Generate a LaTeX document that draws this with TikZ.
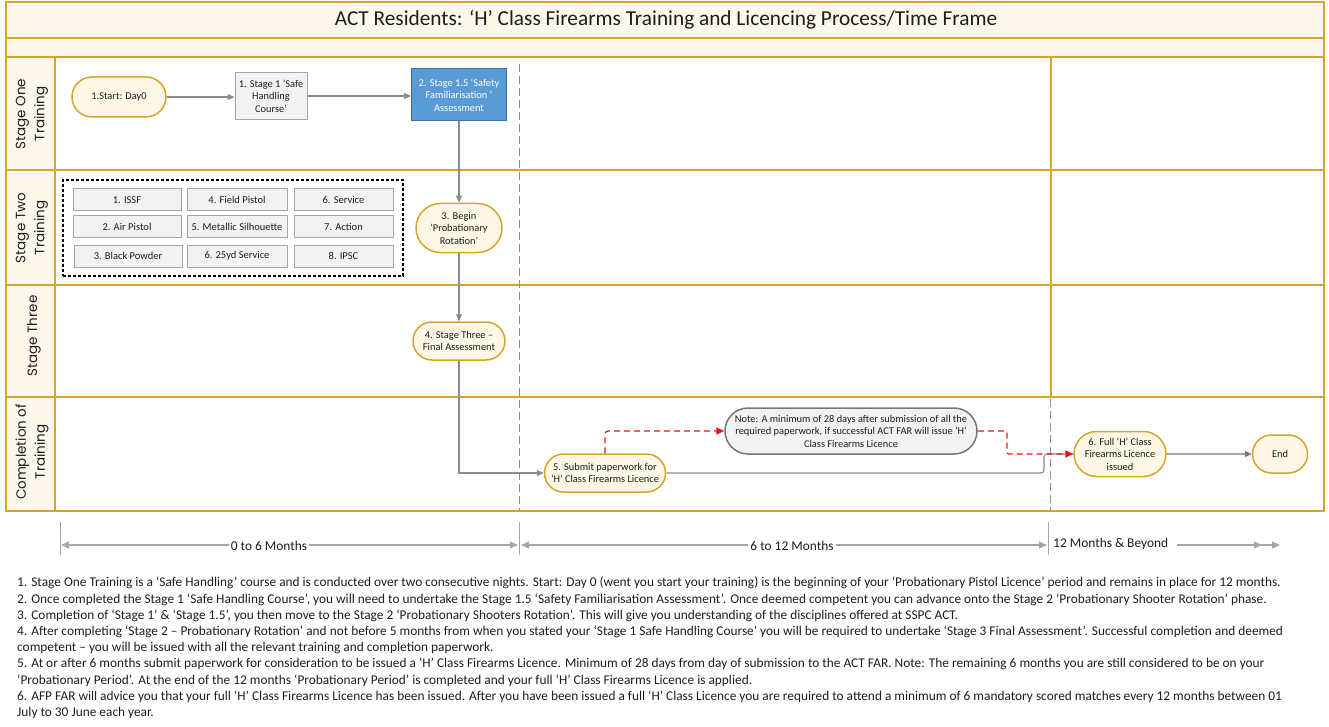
\documentclass[tikz,border=0pt]{standalone}
\usepackage{fontspec}
\setmainfont{Carlito}
\newfontfamily\lanefont{Poppins}
\usetikzlibrary{arrows.meta,shapes.misc}
\definecolor{gold}{RGB}{214,166,44}
\definecolor{cream}{RGB}{254,247,236}
\definecolor{nodecream}{RGB}{255,247,230}
\definecolor{boxgray}{RGB}{242,242,242}
\definecolor{boxline}{RGB}{166,166,166}
\definecolor{blu}{RGB}{91,155,213}
\definecolor{bluline}{RGB}{65,113,156}
\definecolor{arrgray}{RGB}{140,140,140}
\definecolor{darkgray2}{RGB}{118,118,118}
\definecolor{tlgray}{RGB}{166,166,166}
\definecolor{redl}{RGB}{232,20,20}
\definecolor{txt}{RGB}{30,30,30}
\tikzset{
  lane/.style={draw=gold, line width=1.6pt},
  term/.style={rounded rectangle, draw=gold, line width=1.5pt, fill=nodecream, align=center,
    text=txt, font=\fontsize{10.4}{12.5}\selectfont, inner sep=1pt},
  procbox/.style={rectangle, draw=boxline, line width=1pt, fill=boxgray, align=center,
    text=txt, font=\fontsize{10.4}{12.5}\selectfont, inner sep=1pt},
  disc/.style={rectangle, draw=boxline, line width=1pt, fill=boxgray, text=txt,
    minimum height=22, inner sep=1pt, font=\fontsize{10.5}{12}\selectfont},
  flow/.style={draw=arrgray, line width=1.1pt, -{Triangle[length=7pt,width=6pt]}},
  redflow/.style={draw=redl, line width=1.2pt, dash pattern=on 6pt off 4pt,
    -{Triangle[length=8pt,width=7pt]}},
  vdash/.style={draw=arrgray, line width=1pt, dash pattern=on 8pt off 4pt},
  tick/.style={draw=tlgray, line width=1pt},
  tl/.style={draw=tlgray, line width=1.4pt},
  tltext/.style={fill=white, inner sep=2pt, text=txt, font=\fontsize{13.4}{15}\selectfont},
  lanelabel/.style={rotate=90, align=center, text=txt, font=\lanefont\fontsize{13.5}{19}\selectfont},
  notes/.style={anchor=west, inner sep=0pt, text=txt, font=\fontsize{13.35}{15}\selectfont}
}
\begin{document}
\begin{tikzpicture}[x=1pt,y=-1pt]
\useasboundingbox (0,0) rectangle (1329,727);
% frame
\fill[cream] (6,2) rectangle (1324,57);
\fill[cream] (6,57) rectangle (55,511);
\draw[lane] (6,38) -- (1324,38);
\draw[lane] (6,57) -- (1324,57);
\draw[lane] (6,170) -- (1324,170);
\draw[lane] (6,285) -- (1324,285);
\draw[lane] (6,397) -- (1324,397);
\draw[lane] (55,57) -- (55,511);
\draw[lane] (1051,57) -- (1051,397);
\draw[draw=gold, line width=2pt] (6,2) rectangle (1324,511);
% dashed time dividers
\draw[vdash] (519,64) -- (519,511);
\draw[vdash] (1050,399) -- (1050,511);
% title
\node[text=txt, font=\fontsize{21.3}{24}\selectfont] (title) at (666,20) {ACT Residents: ‘H’ Class Firearms Training and Licencing Process/Time Frame};
% lane labels
\node[lanelabel] (l1) at (32,114) {Stage One\\Training};
\node[lanelabel] (l2) at (32,228) {Stage Two\\Training};
\node[lanelabel] (l3) at (34,336) {Stage Three};
\node[lanelabel] (l4) at (32,452) {Completion of\\Training};
% stage one
\node[term, minimum width=96, minimum height=40] (n1) at (119,97) {1.Start: Day0};
\node[procbox, minimum width=72, minimum height=47] (n2) at (271,96) {1. Stage 1 ‘Safe\\Handling\\Course’};
\node[procbox, fill=blu, draw=bluline, text=white, minimum width=95, minimum height=52] (n3) at (459,95) {2. Stage 1.5 ‘Safety\\Familiarisation ’\\Assessment};
% stage two group
\node[draw=black, line width=1.3pt, dash pattern=on 3pt off 2pt, minimum width=340, minimum height=96] (grp) at (233,228) {};
\node[disc, minimum width=108] (d1) at (127,200) {1. ISSF};
\node[disc, minimum width=100] (d4) at (237,200) {4. Field Pistol};
\node[disc, minimum width=99] (d6) at (343.5,200) {6. Service};
\node[disc, minimum width=108] (d2) at (127,227) {2. Air Pistol};
\node[disc, minimum width=100] (d5) at (237,227) {5. Metallic Silhouette};
\node[disc, minimum width=99] (d7) at (343.5,227) {7. Action};
\node[disc, minimum width=108] (d3) at (128,256) {3. Black Powder};
\node[disc, minimum width=100] (d25) at (237,256) {6. 25yd Service};
\node[disc, minimum width=99] (d8) at (343.5,256) {8. IPSC};
\node[term, minimum width=88, minimum height=49] (n4) at (459,228) {3. Begin\\‘Probationary\\Rotation’};
% stage three
\node[term, minimum width=94, minimum height=38] (n5) at (459,341) {4. Stage Three –\\Final Assessment};
% completion
\node[term, minimum width=123, minimum height=38] (n6) at (605,473) {5. Submit paperwork for\\‘H’ Class Firearms Licence};
\node[term, fill=boxgray, draw=darkgray2, minimum width=254, minimum height=46] (note) at (851,431) {Note: A minimum of 28 days after submission of all the\\required paperwork, if successful ACT FAR will issue ‘H’\\Class Firearms Licence};
\node[term, minimum width=94, minimum height=45] (n8) at (1120,454) {6. Full ‘H’ Class\\Firearms Licence\\issued};
\node[term, minimum width=57, minimum height=38] (end) at (1280,454) {End};
% connectors
\draw[flow] (n1.east) -- (n1.east -| n2.west);
\draw[flow] (n2.east) -- (n2.east -| n3.west);
\draw[flow] (n3.south) -- (n4.north);
\draw[flow] (n4.south) -- (n5.north);
\draw[flow] (n5.south) |- (n6.west);
\coordinate (jx) at (1044,0);
\draw[draw=arrgray, line width=1.1pt, rounded corners=3pt] (n6.east) -| (jx |- n8.west) -- (n8.west);
\draw[redflow, rounded corners=3pt] (n6.north) |- (note.west);
\coordinate (rx) at (1007,0);
\draw[redflow, rounded corners=2pt] (note.east) -| (rx |- n8.west) -- (n8.west);
\draw[flow, draw=darkgray2] (n8) -- (end);
% timeline
\coordinate (t0) at (60,545);
\coordinate (t1) at (519,545);
\coordinate (t2) at (1048,545);
\draw[tick] (60,522) -- (60,555);
\draw[tick] (519,522) -- (519,555);
\draw[tick] (1048,522) -- (1048,555);
\draw[tl, {Triangle[length=8pt,width=7pt]}-{Triangle[length=8pt,width=7pt]}] ([xshift=1pt]t0) -- ([xshift=-1pt]t1);
\draw[tl, {Triangle[length=8pt,width=7pt]}-{Triangle[length=8pt,width=7pt]}] ([xshift=2pt]t1) -- ([xshift=-1pt]t2);
\node[tltext] (lab1) at (269,546) {0 to 6 Months};
\node[tltext] (lab2) at (792,546) {6 to 12 Months};
\node[tltext, anchor=west] (lab3) at (1051,544) {12 Months \& Beyond};
\coordinate (b0) at (1177,545);
\coordinate (b1) at (1262,545);
\coordinate (b2) at (1280,545);
\draw[tl, -{Triangle[length=8pt,width=7pt]}] (b0) -- (b1);
\draw[tl, -{Triangle[length=8pt,width=7pt]}] ([xshift=-3pt]b1) -- (b2);
% notes
\node[notes] (m1) at (17,583) {1. Stage One Training is a ‘Safe Handling’ course and is conducted over two consecutive nights. Start: Day 0 (went you start your training) is the beginning of your ‘Probationary Pistol Licence’ period and remains in place for 12 months.};
\node[notes] (m2) at (17,599.5) {2. Once completed the Stage 1 ‘Safe Handling Course’, you will need to undertake the Stage 1.5 ‘Safety Familiarisation Assessment’. Once deemed competent you can advance onto the Stage 2 ‘Probationary Shooter Rotation’ phase.};
\node[notes] (m3) at (17,615.5) {3. Completion of ‘Stage 1’ \& ‘Stage 1.5’, you then move to the Stage 2 ‘Probationary Shooters Rotation’. This will give you understanding of the disciplines offered at SSPC ACT.};
\node[notes] (m4) at (17,632) {4. After completing ‘Stage 2 – Probationary Rotation’ and not before 5 months from when you stated your ‘Stage 1 Safe Handling Course’ you will be required to undertake ‘Stage 3 Final Assessment’. Successful completion and deemed};
\node[notes] (m5) at (17,648) {competent – you will be issued with all the relevant training and completion paperwork.};
\node[notes] (m6) at (17,664) {5. At or after 6 months submit paperwork for consideration to be issued a ‘H’ Class Firearms Licence. Minimum of 28 days from day of submission to the ACT FAR. Note: The remaining 6 months you are still considered to be on your};
\node[notes] (m7) at (17,680.5) {‘Probationary Period’. At the end of the 12 months ‘Probationary Period’ is completed and your full ‘H’ Class Firearms Licence is applied.};
\node[notes] (m8) at (17,696.5) {6. AFP FAR will advice you that your full ‘H’ Class Firearms Licence has been issued. After you have been issued a full ‘H’ Class Licence you are required to attend a minimum of 6 mandatory scored matches every 12 months between 01};
\node[notes] (m9) at (17,713) {July to 30 June each year.};
\end{tikzpicture}
\end{document}
